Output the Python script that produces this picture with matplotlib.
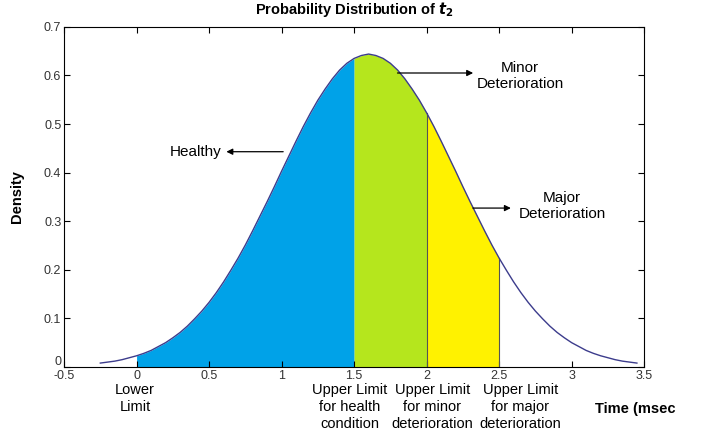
import numpy as np
import matplotlib.pyplot as plt
import matplotlib.transforms as mtransforms

plt.rcParams['font.family'] = ['Liberation Sans', 'DejaVu Sans']

# density, x from -0.25 to 3.45 every 0.05
t = np.round(np.arange(-0.25, 3.451, 0.05), 2)
half = [0.008, 0.010, 0.012, 0.015, 0.019, 0.023, 0.028, 0.034, 0.042, 0.050,
        0.060, 0.071, 0.084, 0.099, 0.115, 0.133, 0.153, 0.175, 0.199, 0.224,
        0.251, 0.280, 0.310, 0.340, 0.371, 0.403, 0.434, 0.465, 0.495, 0.523,
        0.549, 0.572, 0.593, 0.611, 0.625, 0.635, 0.641, 0.644]
density = np.array(half + half[-2::-1])

limits = [0.0, 1.5, 2.0, 2.5]
zone_colors = ['#00a2e8', '#b5e61d', '#fff200']
limit_labels = ['Lower\nLimit', 'Upper Limit\nfor health\ncondition',
                'Upper Limit\nfor minor\ndeterioration', 'Upper Limit\nfor major\ndeterioration']
label_x = [-0.01, 1.47, 2.04, 2.645]

fig = plt.figure(figsize=(7.04, 4.4), dpi=100)
ax = fig.add_axes([0.091, 0.166, 0.824, 0.773])

for i in range(3):
    m = (t >= limits[i] - 1e-9) & (t <= limits[i + 1] + 1e-9)
    ax.fill_between(t[m], 0, density[m], color=zone_colors[i], linewidth=0)
for xv in limits[2:]:
    ax.plot([xv, xv], [0, density[np.isclose(t, xv)][0]], color='#555555', lw=0.8)
ax.plot(t, density, color='#3c3c8c', lw=1.0)

ax.set_xlim(-0.5, 3.5)
ax.set_ylim(0, 0.7)
ax.set_xticks(np.arange(-0.5, 3.51, 0.5))
ax.set_xticklabels(['-0.5', '0', '0.5', '1', '1.5', '2', '2.5', '3', '3.5'])
ax.set_yticks(np.arange(0, 0.71, 0.1))
ax.set_yticklabels(['0', '0.1', '0.2', '0.3', '0.4', '0.5', '0.6', '0.7'])
ax.tick_params(direction='in', length=4, labelsize=9, labelcolor='#333333',
               top=True, right=True, pad=2)
# matlab-style: the y "0" sits a bit above the x "-0.5"
zero_lab = ax.get_yticklabels()[0]
zero_lab.set_transform(zero_lab.get_transform() +
                       mtransforms.ScaledTranslation(0, 5 / 72, fig.dpi_scale_trans))

ax.set_title('Probability Distribution of $\\mathbfit{t}_\\mathbf{2}$', fontsize=10.5,
             fontweight='bold', pad=9)
ax.set_ylabel('Density', fontsize=10.5, fontweight='bold', labelpad=14)
fig.text(0.845, 0.07, 'Time (msec', fontsize=10.5, fontweight='bold', ha='left', va='center')

for xv, lab in zip(label_x, limit_labels):
    ax.text(xv, -0.032, lab, ha='center', va='top', fontsize=10.5, linespacing=1.3)

arrow = dict(arrowstyle='-|>', color='black', lw=0.9, mutation_scale=9)
ax.annotate('', xy=(0.60, 0.443), xytext=(1.03, 0.443), arrowprops=arrow)
ax.text(0.585, 0.443, 'Healthy', fontsize=11, ha='right', va='center')
ax.annotate('', xy=(2.34, 0.605), xytext=(1.78, 0.605), arrowprops=arrow)
ax.text(2.645, 0.599, 'Minor\nDeterioration', fontsize=11, ha='center', va='center')
ax.annotate('', xy=(2.60, 0.327), xytext=(2.30, 0.327), arrowprops=arrow)
ax.text(2.934, 0.331, 'Major\nDeterioration', fontsize=11, ha='center', va='center')

fig.savefig('out.png', dpi=100)
